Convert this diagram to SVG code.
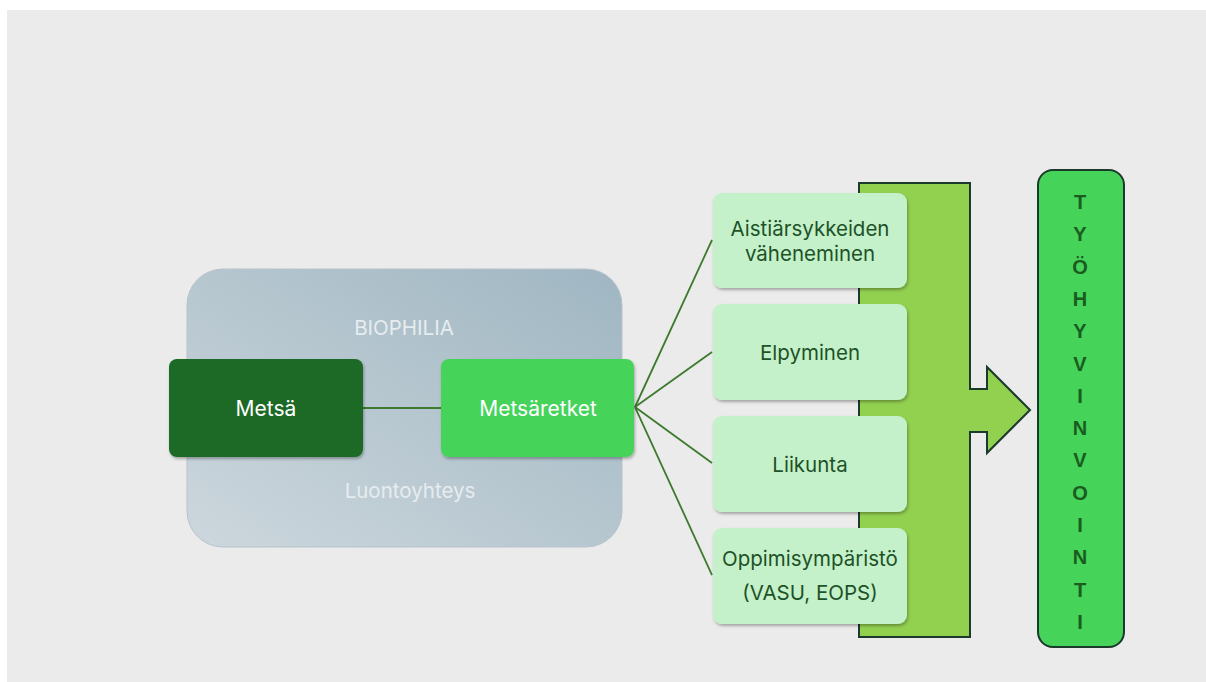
<svg xmlns="http://www.w3.org/2000/svg" width="1206" height="682" viewBox="0 0 1206 682">
<defs>
<linearGradient id="bio" x1="0" y1="1" x2="1" y2="0">
<stop offset="0" stop-color="#cdd7dd"/>
<stop offset="1" stop-color="#9fb6c2"/>
</linearGradient>
<filter id="sh" x="-10%" y="-10%" width="125%" height="130%">
<feDropShadow dx="1" dy="2" stdDeviation="1.5" flood-color="#000" flood-opacity="0.3"/>
</filter>
<style>
text{font-family:Inter,"Noto Sans","Liberation Sans",sans-serif;text-anchor:middle;dominant-baseline:central}
.item rect{fill:#c4f1c9;filter:url(#sh)}
.item text{fill:#1e5128;font-size:20.5px}
.conn line{stroke:#3e7a2e;stroke-width:1.8}
.big text{fill:#1a5c1f;font-size:20px;font-weight:bold;font-family:"Liberation Sans",Arial,sans-serif}
</style>
</defs>
<rect x="0" y="0" width="1206" height="682" fill="#ffffff"/>
<rect x="7" y="10" width="1199" height="672" fill="#ebebeb"/>

<g id="biophilia">
<rect x="187" y="269" width="435" height="278" rx="36" fill="url(#bio)" stroke="#b7c3ca" stroke-width="1"/>
<text x="404" y="327" font-size="20.5" fill="#e6ecef">BIOPHILIA</text>
<text x="410" y="490" font-size="20.5" fill="#e6ecef">Luontoyhteys</text>
</g>

<g id="arrow">
<path d="M859,183 H970 V389 H987 V367 L1030,410 L987,453 V432 H970 V637 H859 Z" fill="#92d050" stroke="#1c3a2c" stroke-width="2"/>
</g>

<g class="conn" id="connectors">
<line x1="363" y1="408" x2="441" y2="408"/>
<line x1="635" y1="407" x2="712" y2="240"/>
<line x1="635" y1="407" x2="712" y2="352"/>
<line x1="635" y1="407" x2="712" y2="463"/>
<line x1="635" y1="407" x2="712" y2="575"/>
</g>

<g id="metsa">
<rect x="169" y="359" width="194" height="98" rx="8" fill="#1a6b25" filter="url(#sh)"/>
<text x="266" y="408" font-size="21" fill="#ffffff">Metsä</text>
</g>
<g id="metsaretket">
<rect x="441" y="359" width="193" height="98" rx="8" fill="#45d35a" filter="url(#sh)"/>
<text x="538" y="408" font-size="21" fill="#ffffff">Metsäretket</text>
</g>

<g id="aistiarsykkeiden" class="item">
<rect x="713" y="193" width="194" height="95" rx="9"/>
<text x="810" y="228">Aistiärsykkeiden</text>
<text x="810" y="253">väheneminen</text>
</g>
<g id="elpyminen" class="item">
<rect x="713" y="304" width="194" height="96" rx="9"/>
<text x="810" y="352">Elpyminen</text>
</g>
<g id="liikunta" class="item">
<rect x="713" y="416" width="194" height="96" rx="9"/>
<text x="810" y="464">Liikunta</text>
</g>
<g id="oppimisymparisto" class="item">
<rect x="713" y="528" width="194" height="96" rx="9"/>
<text x="810" y="558">Oppimisympäristö</text>
<text x="810" y="592">(VASU, EOPS)</text>
</g>

<g id="tyohyvinvointi" class="big">
<rect x="1038" y="170" width="86" height="477" rx="15" fill="#45d35a" stroke="#1c3a2c" stroke-width="2"/>
<text x="1080" y="202">T</text>
<text x="1080" y="234">Y</text>
<text x="1080" y="267">Ö</text>
<text x="1080" y="299">H</text>
<text x="1080" y="331">Y</text>
<text x="1080" y="364">V</text>
<text x="1080" y="396">I</text>
<text x="1080" y="428">N</text>
<text x="1080" y="460">V</text>
<text x="1080" y="493">O</text>
<text x="1080" y="525">I</text>
<text x="1080" y="557">N</text>
<text x="1080" y="590">T</text>
<text x="1080" y="622">I</text>
</g>
</svg>
